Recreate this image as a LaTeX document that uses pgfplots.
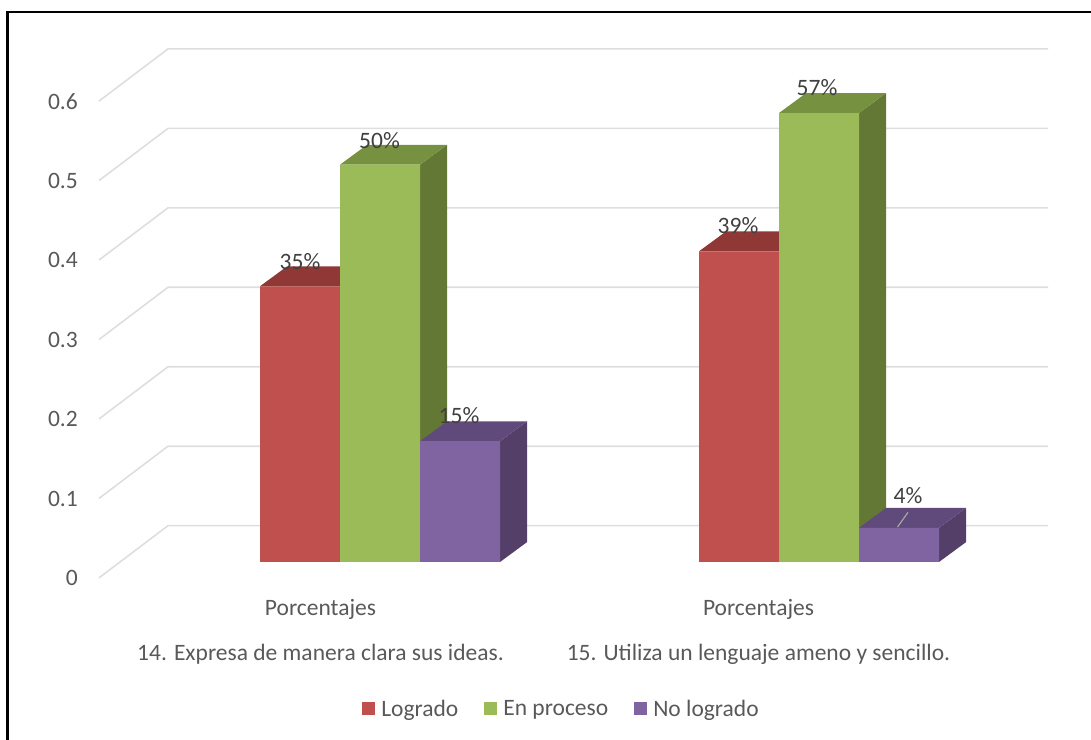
\documentclass[border=0pt]{standalone}
\usepackage{fontspec}
\setmainfont{Carlito}
\usepackage{pgfplots}
\pgfplotsset{compat=1.18}

\definecolor{lbl}{HTML}{595959}
\definecolor{vallbl}{HTML}{404040}
\definecolor{gridc}{HTML}{DEDEDE}
\definecolor{redF}{HTML}{C0504D}
\definecolor{redT}{HTML}{8F3836}
\definecolor{redS}{HTML}{7F2F2D}
\definecolor{greenF}{HTML}{9BBB59}
\definecolor{greenT}{HTML}{76913F}
\definecolor{greenS}{HTML}{647836}
\definecolor{purpF}{HTML}{8064A2}
\definecolor{purpT}{HTML}{604A7B}
\definecolor{purpS}{HTML}{533F68}

\newcommand{\lblfont}{\fontsize{23.5}{27}\selectfont}

\begin{document}
\begin{tikzpicture}
\begin{axis}[
    scale only axis,
    width=1091pt,
    height=740pt,
    xmin=0, xmax=1091,
    ymin=-0.22401, ymax=0.70727,
    axis line style={draw=none},
    tick style={draw=none},
    /pgf/number format/assume math mode=true,
    /pgf/number format/fixed,
    ytick={0,0.1,0.2,0.3,0.4,0.5,0.6},
    yticklabel style={font=\lblfont, text=lbl, inner sep=0pt, anchor=east, xshift=78pt, yshift=-16pt},
    xtick={320.5,758.5},
    xticklabels={{Porcentajes\\[18pt]14. Expresa de manera clara sus ideas.},
                 {Porcentajes\\[18pt]15. Utiliza un lenguaje ameno y sencillo.}},
    xticklabel style={font=\lblfont, text=lbl, align=center, anchor=north, yshift=144pt},
    legend columns=3,
    legend style={at={(axis cs:561.5,-0.185)}, anchor=center, draw=none, fill=none,
        font=\lblfont, text=lbl,
        /tikz/every even column/.append style={column sep=24pt}},
    legend image code/.code={\fill[#1] (0pt,-6.5pt) rectangle (13pt,6.5pt); \path (17pt,0pt);},
]
% frame
\addplot[forget plot, black, line width=2.5pt] coordinates {(7.5,-0.224) (7.5,0.692) (1091,0.692)};

% walls: side wall diagonals then back wall lines
\addplot[forget plot, gridc, line width=1.6pt] coordinates {(99,-0.020) (168,0.0457) (1048,0.0457)};
\addplot[forget plot, gridc, line width=1.6pt] coordinates {(99,0.080) (168,0.1457) (1048,0.1457)};
\addplot[forget plot, gridc, line width=1.6pt] coordinates {(99,0.180) (168,0.2457) (1048,0.2457)};
\addplot[forget plot, gridc, line width=1.6pt] coordinates {(99,0.280) (168,0.3457) (1048,0.3457)};
\addplot[forget plot, gridc, line width=1.6pt] coordinates {(99,0.380) (168,0.4457) (1048,0.4457)};
\addplot[forget plot, gridc, line width=1.6pt] coordinates {(99,0.480) (168,0.5457) (1048,0.5457)};
\addplot[forget plot, gridc, line width=1.6pt] coordinates {(99,0.580) (168,0.6457) (1048,0.6457)};

% Logrado
\addplot[forget plot, fill=redS, draw=none] coordinates {(340,0) (367,0.025) (367,0.372) (340,0.347)};
\addplot[forget plot, fill=redT, draw=none] coordinates {(260,0.347) (340,0.347) (367,0.372) (287,0.372)};
\addplot[forget plot, fill=redS, draw=none] coordinates {(779,0) (806,0.025) (806,0.416) (779,0.391)};
\addplot[forget plot, fill=redT, draw=none] coordinates {(699,0.391) (779,0.391) (806,0.416) (726,0.416)};
\addplot[ybar, bar width=80pt, bar shift=0pt, fill=redF, draw=none] coordinates {(300,0.347) (739,0.391)};
\addlegendentry{Logrado}

% En proceso
\addplot[forget plot, fill=greenS, draw=none] coordinates {(420,0) (447,0.025) (447,0.525) (420,0.5)};
\addplot[forget plot, fill=greenT, draw=none] coordinates {(340,0.5) (420,0.5) (447,0.525) (367,0.525)};
\addplot[forget plot, fill=greenS, draw=none] coordinates {(859,0) (886,0.025) (886,0.59) (859,0.565)};
\addplot[forget plot, fill=greenT, draw=none] coordinates {(779,0.565) (859,0.565) (886,0.59) (806,0.59)};
\addplot[ybar, bar width=80pt, bar shift=0pt, fill=greenF, draw=none] coordinates {(380,0.5) (819,0.565)};
\addlegendentry{En proceso}

% No logrado
\addplot[forget plot, fill=purpS, draw=none] coordinates {(500,0) (527,0.025) (527,0.177) (500,0.152)};
\addplot[forget plot, fill=purpT, draw=none] coordinates {(420,0.152) (500,0.152) (527,0.177) (447,0.177)};
\addplot[forget plot, fill=purpS, draw=none] coordinates {(939,0) (966,0.025) (966,0.068) (939,0.043)};
\addplot[forget plot, fill=purpT, draw=none] coordinates {(859,0.043) (939,0.043) (966,0.068) (886,0.068)};
\addplot[ybar, bar width=80pt, bar shift=0pt, fill=purpF, draw=none] coordinates {(460,0.152) (899,0.043)};
\addlegendentry{No logrado}

% leader line of the 4% label
\addplot[forget plot, color=gray!70, line width=1.2pt] coordinates {(897.5,0.044) (908,0.0625)};

% value labels
\node[font=\lblfont, text=vallbl] at (axis cs:300,0.378) {35\%};
\node[font=\lblfont, text=vallbl] at (axis cs:379.5,0.530) {50\%};
\node[font=\lblfont, text=vallbl] at (axis cs:459,0.184) {15\%};
\node[font=\lblfont, text=vallbl] at (axis cs:738,0.423) {39\%};
\node[font=\lblfont, text=vallbl] at (axis cs:817,0.597) {57\%};
\node[font=\lblfont, text=vallbl] at (axis cs:908,0.084) {4\%};
\end{axis}
\end{tikzpicture}
\end{document}
